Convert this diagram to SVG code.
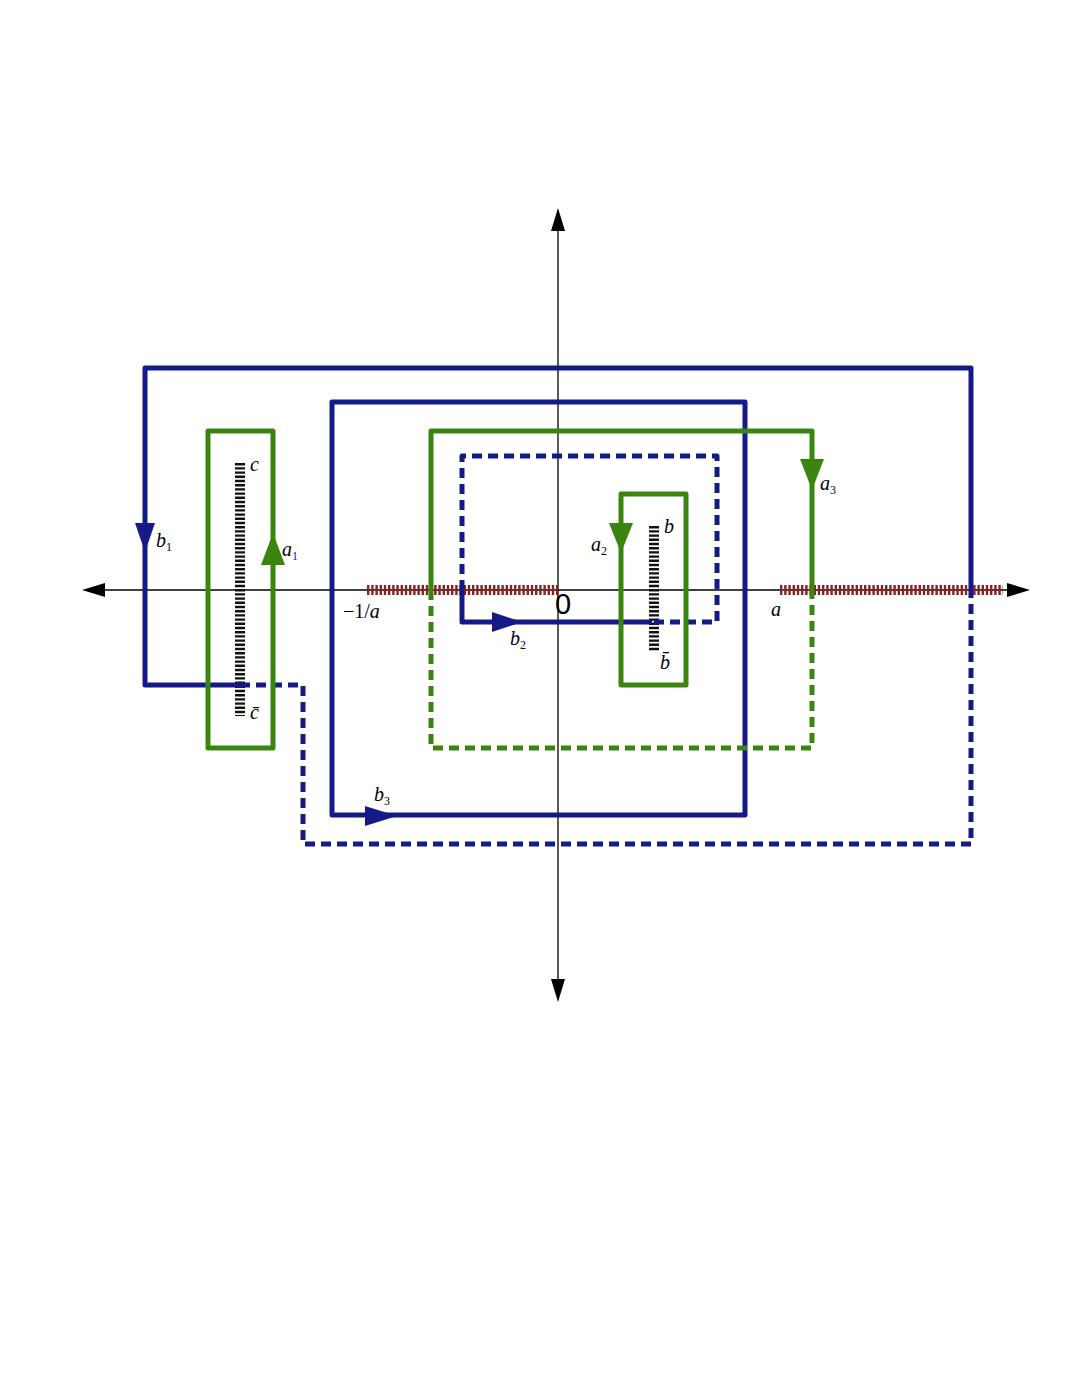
<svg xmlns="http://www.w3.org/2000/svg" width="1080" height="1397" viewBox="0 0 1080 1397">
<style>
.b{fill:none;stroke:#141a87;stroke-width:5;stroke-linejoin:round}
.g{fill:none;stroke:#3a8510;stroke-width:5;stroke-linejoin:round}
.d{stroke-dasharray:10 6}
.ax{stroke:#000;stroke-width:1.3}
.h{stroke-width:10;stroke-dasharray:2.4 1.8}
.t{font-family:"Liberation Serif",serif;font-style:italic;font-size:20px}
.s{font-family:"Liberation Serif",serif;font-size:12px}
</style>
<rect width="1080" height="1397" fill="#fff"/>
<g id="axes">
<line class="ax" x1="100" y1="590" x2="1012" y2="590"/>
<line class="ax" x1="558" y1="228" x2="558" y2="985"/>
<path d="M82,590L105,583L105,597z"/><path d="M1030,590L1007,583L1007,597z"/>
<path d="M558,208L551,231L565,231z"/><path d="M558,1002L551,979L565,979z"/>
</g>
<g id="cuts">
<line class="h" x1="367" y1="590" x2="558" y2="590" stroke="#8b2020"/>
<line class="h" x1="780" y1="590" x2="1003" y2="590" stroke="#8b2020"/>
<line class="h" x1="240" y1="463" x2="240" y2="716" stroke="#111"/>
<line class="h" x1="654" y1="526" x2="654" y2="651" stroke="#111"/>
</g>
<g id="connectors">
<path class="b" d="M240,685L145,685L145,368L971,368L971,590"/>
<path class="b d" d="M240,685L303,685L303,844L971,844L971,590"/>
<rect class="b" x="332" y="402" width="413" height="413"/>
<path class="b" d="M462,590L462,622L652,622"/>
<path class="b d" d="M462,590L462,456L717,456L717,622L652,622"/>
<rect class="g" x="208" y="431" width="65" height="317"/>
<rect class="g" x="621" y="494" width="65" height="191"/>
<path class="g" d="M431,590L431,431L812,431L812,590"/>
<path class="g d" d="M431,590L431,748L812,748L812,590"/>
<path fill="#141a87" d="M135,523L155,523L145,552z"/>
<path fill="#141a87" d="M365,806L365,826L397,816z"/>
<path fill="#141a87" d="M492,612L492,632L522,622z"/>
<path fill="#3a8510" d="M261,565L285,565L273,533z"/>
<path fill="#3a8510" d="M609,523L633,523L621,553z"/>
<path fill="#3a8510" d="M800,459L824,459L812,490z"/>
</g>
<g id="labels">
<text class="t" x="250" y="471">c</text>
<text class="t" x="250" y="719">c̄</text>
<text class="t" x="156" y="547">b</text><text class="s" x="166" y="551">1</text>
<text class="t" x="282" y="556">a</text><text class="s" x="292" y="560" fill="#141a87">1</text>
<text class="t" x="343" y="618"><tspan font-style="normal">−1/</tspan>a</text>
<text x="555" y="614" font-family="Liberation Sans,sans-serif" font-size="29">0</text>
<text class="t" x="771" y="616">a</text>
<text class="t" x="591" y="551">a</text><text class="s" x="601" y="555">2</text>
<text class="t" x="664" y="533">b</text>
<text class="t" x="660" y="669">b̄</text>
<text class="t" x="820" y="490">a</text><text class="s" x="830" y="494">3</text>
<text class="t" x="510" y="645">b</text><text class="s" x="520" y="649">2</text>
<text class="t" x="374" y="801">b</text><text class="s" x="384" y="805">3</text>
</g>
</svg>
